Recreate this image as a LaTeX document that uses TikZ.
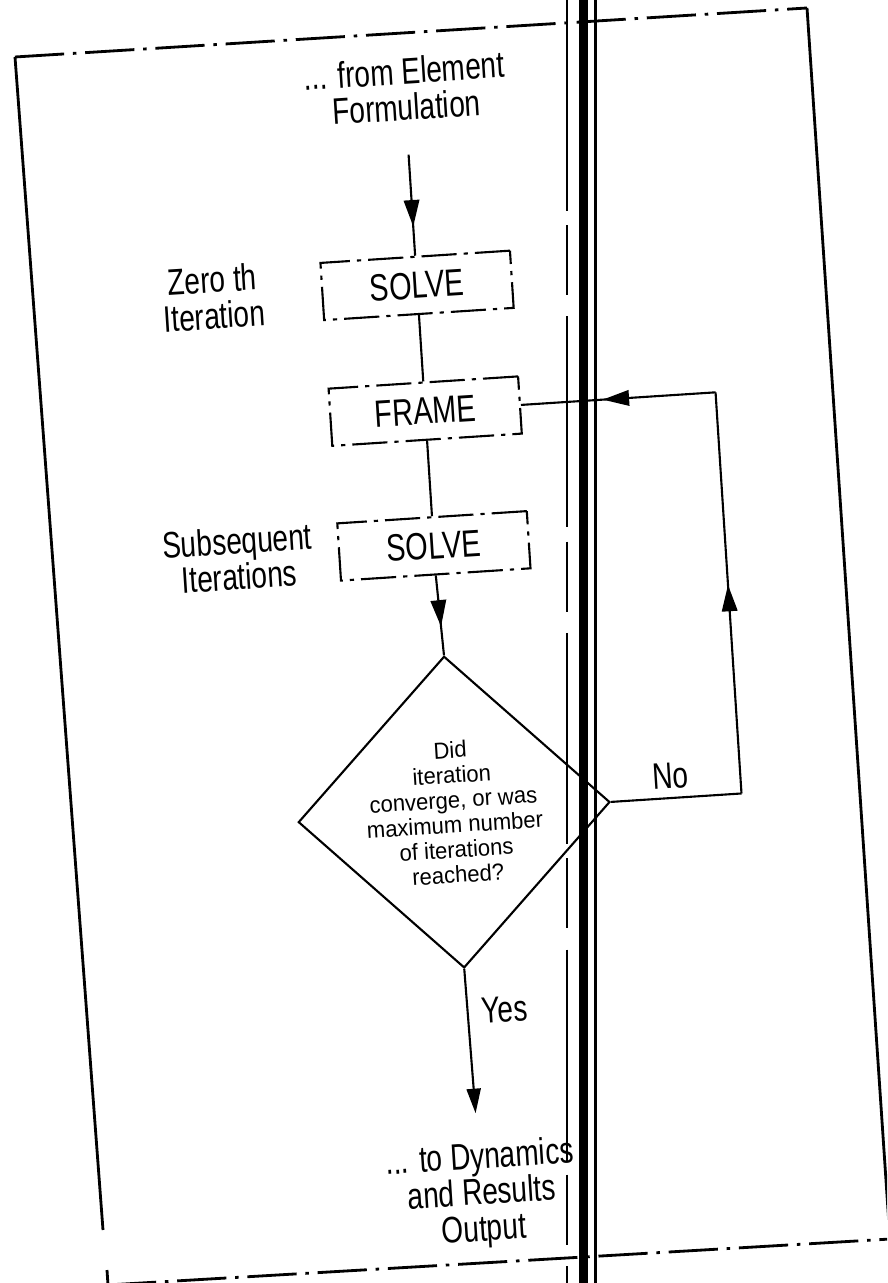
\documentclass[tikz,border=0pt]{standalone}
\usepackage{fontspec}
\setmainfont{Liberation Sans}[FakeStretch=0.76]
\newfontfamily\qfont{Liberation Sans}[FakeStretch=0.95]
\usetikzlibrary{arrows.meta,shapes.geometric,decorations.markings}
\newcommand\tightskip{\lineskiplimit=-20pt\relax}
\tikzset{
  procbox/.style={
    draw,
    line width=0.6pt,
    dash pattern=on 10pt off 2pt on 1.2pt off 2pt,
    minimum width=54pt,
    minimum height=16.3pt,
    inner sep=0pt,
    font=\fontsize{10.8}{9.6}\selectfont
  },
  decision/.style={
    diamond,
    draw,
    line width=0.6pt,
    aspect=1,
    minimum size=88.8pt,
    inner sep=0pt
  },
  sidenote/.style={
    align=center,
    inner sep=0pt,
    font=\fontsize{10.5}{10.3}\selectfont\tightskip
  },
  qnote/.style={
    align=center,
    inner sep=0pt,
    font=\qfont\fontsize{6.6}{7.1}\selectfont\tightskip
  },
  flowarc/.style={
    line width=0.6pt,
    postaction={decorate},
    decoration={markings,
      mark=at position #1 with {\arrow{Triangle[length=7.5pt,width=4.4pt]}}}
  },
  plainarc/.style={line width=0.6pt},
  framerule/.style={line width=0.8pt},
  frameedge/.style={
    line width=0.8pt,
    dash pattern=on 14pt off 2.5pt on 1pt off 2.5pt
  }
}
\begin{document}
\begin{tikzpicture}[x=0.01cm,y=-0.01cm]
  \useasboundingbox (0,0) rectangle (887,1283);
  \clip (0,0) rectangle (887,1283);

  % page frame
  \draw[frameedge] (15,57) -- (807,8);
  \draw[framerule] (807,8) -- (890,1240);
  \draw[frameedge] (107,1285) -- (890,1239);
  \draw[framerule] (15,57) -- (103,1230);
  \draw[framerule] (107,1270) -- (108,1285);

  \begin{scope}[rotate around={3.7:(450,640)}, transform shape]
    \node[sidenote] (intxt) at (441,87) {... from Element\\Formulation};
    \node[procbox] (solve0) at (440,284) {SOLVE};
    \node[sidenote] (zlab) at (236,283) {Zero th\\Iteration};
    \node[procbox] (frm) at (440,410) {FRAME};
    \node[procbox] (solve1) at (440,545) {SOLVE};
    \node[sidenote] (slab) at (244,545) {Subsequent\\Iterations};
    \node[decision] (dia) at (443,812) {};
    \node[qnote] (qtxt) at (dia.center)
      {Did\\iteration\\converge, or was\\maximum number\\of iterations\\reached?};
    \node[sidenote] (nolab) at (661,790) {No};
    \node[sidenote,anchor=west] (yeslab) at (457,1012) {Yes};
    \node[sidenote] (outtxt) at (446,1196) {... to Dynamics\\and Results\\Output};

    \coordinate (a0) at (440,153);
    \coordinate (a1) at (445,1114);
    \coordinate (c1) at (731,812);
    \coordinate (c2) at (731,410);

    % main flow
    \draw[flowarc=0.71] (a0) -- (solve0.north);
    \draw[plainarc] (solve0.south) -- (frm.north);
    \draw[plainarc] (frm.south) -- (solve1.north);
    \draw[flowarc=0.64] (solve1.south) -- (dia.north);

    % No: back to FRAME
    \draw[plainarc] (dia.east) -- (c1);
    \draw[flowarc=0.52] (c1) -- (c2);
    \draw[flowarc=0.58] (c2) -- (frm.east);

    % Yes
    \draw[plainarc,-{Triangle[length=7pt,width=4pt]}] (dia.south) -- (a1);
  \end{scope}

  % binding gutter
  \fill (579,0) rectangle (588,1283);
  \draw[line width=0.8pt] (595.5,0) -- (595.5,1283);
  \draw[line width=0.4pt, dash pattern=on 60pt off 4pt on 20pt off 6pt] (567,0) -- (567,1283);
\end{tikzpicture}
\end{document}
